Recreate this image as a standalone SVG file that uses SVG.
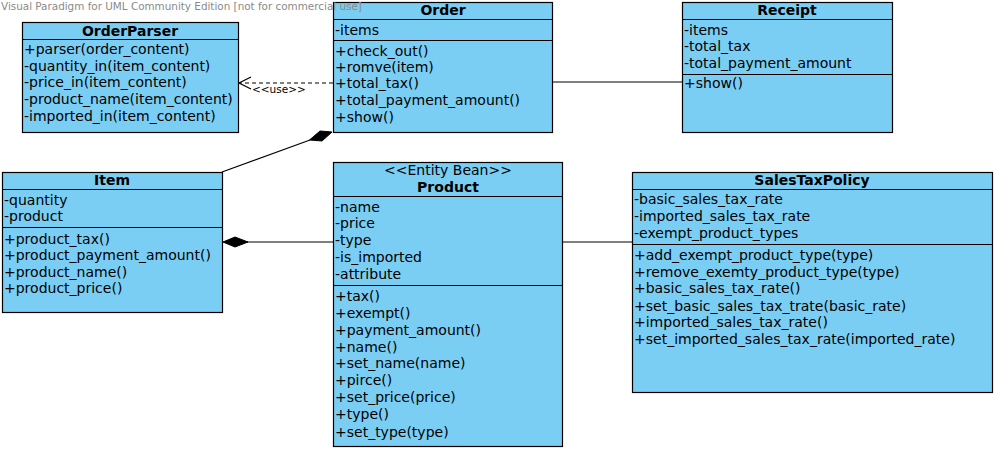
<svg xmlns="http://www.w3.org/2000/svg" width="996" height="450" viewBox="0 0 996 450">
<style>
.box{fill:#7acef4;stroke:#000;stroke-width:1.2}
.sep{stroke:#000;stroke-width:1.2}
.t{font-family:"DejaVu Sans",sans-serif;font-size:14px;fill:#000}
.b{font-family:"DejaVu Sans",sans-serif;font-size:14px;font-weight:bold;fill:#000;text-anchor:middle}
.c{font-family:"DejaVu Sans",sans-serif;font-size:14px;fill:#000;text-anchor:middle}
.wm{font-family:"DejaVu Sans",sans-serif;font-size:10.4px;fill:#8a8a8a}
.ln{stroke:#000;stroke-width:1.2;fill:none}
.lbl{font-family:"DejaVu Sans",sans-serif;font-size:10.5px;fill:#000}
</style>
<rect width="996" height="450" fill="#fff"/>

<g id="connectors">
  <line class="ln" x1="333" y1="83" x2="240" y2="83" stroke-dasharray="4,3"/>
  <polyline class="ln" points="251,77 239,83 251,89"/>
  <text class="lbl" x="252" y="93">&lt;&lt;use&gt;&gt;</text>
  <line class="ln" x1="552" y1="82" x2="682" y2="82"/>
  <line class="ln" x1="222" y1="172" x2="310" y2="140"/>
  <polygon points="332,132 320,131 309.5,140 322,141" fill="#000" stroke="#000"/>
  <line class="ln" x1="247" y1="242" x2="333" y2="242"/>
  <polygon points="223,242 235,237 248,242 235,247" fill="#000" stroke="#000"/>
  <line class="ln" x1="562" y1="242" x2="632" y2="242"/>
</g>

<g id="OrderParser">
  <rect class="box" x="22.5" y="22.5" width="216" height="110"/>
  <line class="sep" x1="22.5" y1="39.5" x2="238.5" y2="39.5"/>
  <text class="b" x="130" y="36">OrderParser</text>
  <text class="t" x="24" y="54">+parser(order_content)</text>
  <text class="t" x="24" y="71">-quantity_in(item_content)</text>
  <text class="t" x="24" y="87">-price_in(item_content)</text>
  <text class="t" x="24" y="104">-product_name(item_content)</text>
  <text class="t" x="24" y="121">-imported_in(item_content)</text>
</g>

<g id="Order">
  <rect class="box" x="333.5" y="2.5" width="219" height="130"/>
  <line class="sep" x1="333.5" y1="19.5" x2="552.5" y2="19.5"/>
  <line class="sep" x1="333.5" y1="40.5" x2="552.5" y2="40.5"/>
  <text class="b" x="443" y="15">Order</text>
  <text class="t" x="335" y="35">-items</text>
  <text class="t" x="335" y="56">+check_out()</text>
  <text class="t" x="335" y="72">+romve(item)</text>
  <text class="t" x="335" y="88">+total_tax()</text>
  <text class="t" x="335" y="105">+total_payment_amount()</text>
  <text class="t" x="335" y="122">+show()</text>
</g>

<g id="Receipt">
  <rect class="box" x="682.5" y="2.5" width="210" height="130"/>
  <line class="sep" x1="682.5" y1="19.5" x2="892.5" y2="19.5"/>
  <line class="sep" x1="682.5" y1="74.5" x2="892.5" y2="74.5"/>
  <text class="b" x="787" y="15">Receipt</text>
  <text class="t" x="684" y="35">-items</text>
  <text class="t" x="684" y="51">-total_tax</text>
  <text class="t" x="684" y="68">-total_payment_amount</text>
  <text class="t" x="684" y="88">+show()</text>
</g>

<g id="Item">
  <rect class="box" x="2.5" y="172.5" width="220" height="140"/>
  <line class="sep" x1="2.5" y1="189.5" x2="222.5" y2="189.5"/>
  <line class="sep" x1="2.5" y1="227.5" x2="222.5" y2="227.5"/>
  <text class="b" x="112" y="185">Item</text>
  <text class="t" x="4" y="205">-quantity</text>
  <text class="t" x="4" y="221">-product</text>
  <text class="t" x="4" y="244">+product_tax()</text>
  <text class="t" x="4" y="260">+product_payment_amount()</text>
  <text class="t" x="4" y="277">+product_name()</text>
  <text class="t" x="4" y="293">+product_price()</text>
</g>

<g id="Product">
  <rect class="box" x="333.5" y="162.5" width="229" height="284"/>
  <line class="sep" x1="333.5" y1="196.5" x2="562.5" y2="196.5"/>
  <line class="sep" x1="333.5" y1="285.5" x2="562.5" y2="285.5"/>
  <text class="c" x="448" y="175">&lt;&lt;Entity Bean&gt;&gt;</text>
  <text class="b" x="448" y="192">Product</text>
  <text class="t" x="335" y="212">-name</text>
  <text class="t" x="335" y="228">-price</text>
  <text class="t" x="335" y="245">-type</text>
  <text class="t" x="335" y="262">-is_imported</text>
  <text class="t" x="335" y="279">-attribute</text>
  <text class="t" x="335" y="301">+tax()</text>
  <text class="t" x="335" y="318">+exempt()</text>
  <text class="t" x="335" y="335">+payment_amount()</text>
  <text class="t" x="335" y="352">+name()</text>
  <text class="t" x="335" y="368">+set_name(name)</text>
  <text class="t" x="335" y="385">+pirce()</text>
  <text class="t" x="335" y="402">+set_price(price)</text>
  <text class="t" x="335" y="419">+type()</text>
  <text class="t" x="335" y="437">+set_type(type)</text>
</g>

<g id="SalesTaxPolicy">
  <rect class="box" x="632.5" y="172.5" width="360" height="220"/>
  <line class="sep" x1="632.5" y1="189.5" x2="992.5" y2="189.5"/>
  <line class="sep" x1="632.5" y1="244.5" x2="992.5" y2="244.5"/>
  <text class="b" x="812" y="185">SalesTaxPolicy</text>
  <text class="t" x="634" y="204">-basic_sales_tax_rate</text>
  <text class="t" x="634" y="221">-imported_sales_tax_rate</text>
  <text class="t" x="634" y="238">-exempt_product_types</text>
  <text class="t" x="634" y="260">+add_exempt_product_type(type)</text>
  <text class="t" x="634" y="277">+remove_exemty_product_type(type)</text>
  <text class="t" x="634" y="293">+basic_sales_tax_rate()</text>
  <text class="t" x="634" y="311">+set_basic_sales_tax_trate(basic_rate)</text>
  <text class="t" x="634" y="327">+imported_sales_tax_rate()</text>
  <text class="t" x="634" y="344">+set_imported_sales_tax_rate(imported_rate)</text>
</g>

<text class="wm" x="1" y="10">Visual Paradigm for UML Community Edition [not for commercial use]</text>
</svg>
